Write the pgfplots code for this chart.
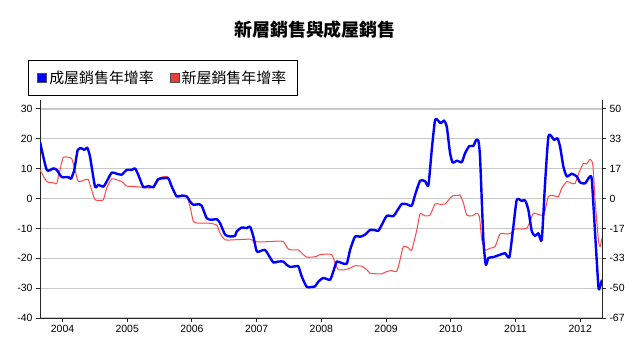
\documentclass[border=0pt]{standalone}
\usepackage{pgfplots}
\pgfplotsset{compat=1.18}
\usepackage{fontspec}
\setmainfont{Liberation Sans}
\newfontfamily\cjk{Noto Sans CJK TC}
\definecolor{bl}{RGB}{0,0,255}
\definecolor{rd}{RGB}{255,70,70}
\definecolor{gr}{RGB}{200,200,200}

\pgfplotstableread{
x y
2003.652 19
2003.756 9.6
2003.858 10.1
2003.910 9.6
2003.988 7.2
2004.090 7.2
2004.131 6.6
2004.182 9.6
2004.235 16.3
2004.297 16.8
2004.337 16.3
2004.383 17
2004.425 14
2004.502 4
2004.553 4.6
2004.631 4
2004.683 5.7
2004.760 8.7
2004.838 8.3
2004.915 8.0
2004.992 9.6
2005.070 9.6
2005.121 10.1
2005.172 7.9
2005.249 3.8
2005.326 4.2
2005.403 3.8
2005.481 6.5
2005.558 6.8
2005.635 6.8
2005.688 4
2005.765 0.7
2005.842 1.0
2005.920 0.7
2005.971 -1
2006.022 -2.1
2006.099 -1.9
2006.151 -2.4
2006.229 -6.6
2006.306 -7.1
2006.383 -6.9
2006.434 -8.2
2006.512 -12.1
2006.589 -12.7
2006.666 -12.5
2006.692 -11
2006.770 -9.7
2006.847 -9.9
2006.898 -9.4
2006.949 -12.7
2007.002 -17.7
2007.079 -17.4
2007.130 -17.2
2007.181 -18.8
2007.258 -21.4
2007.335 -21.1
2007.413 -21.1
2007.465 -22.2
2007.516 -22.9
2007.594 -22.7
2007.645 -22.7
2007.697 -26.1
2007.774 -29.6
2007.852 -29.6
2007.903 -29.4
2007.954 -27.8
2008.031 -26.6
2008.134 -27.2
2008.185 -24.4
2008.238 -21.1
2008.315 -21.6
2008.393 -21.8
2008.444 -17.2
2008.521 -12.7
2008.598 -12.8
2008.675 -12.1
2008.753 -10.5
2008.830 -10.6
2008.881 -10.8
2008.934 -8.8
2009.011 -5.8
2009.113 -5.9
2009.165 -4.3
2009.243 -1.8
2009.320 -1.9
2009.397 -2.4
2009.448 1.2
2009.526 6.0
2009.603 5.8
2009.654 4.4
2009.706 16.3
2009.757 26.3
2009.808 26
2009.845 25.2
2009.896 26.1
2009.938 24.1
2009.989 15.2
2010.031 12
2010.093 12.7
2010.170 12.2
2010.221 15.2
2010.287 17.6
2010.349 17.6
2010.391 19.6
2010.427 19.3
2010.453 13.5
2010.504 -13.8
2010.541 -22.2
2010.581 -19.9
2010.659 -19.6
2010.762 -18.8
2010.839 -18.3
2010.906 -19.6
2010.967 -9.4
2011.020 -0.4
2011.097 -0.8
2011.148 -0.6
2011.199 -3.8
2011.252 -11
2011.303 -12.5
2011.354 -11.6
2011.406 -13.8
2011.457 5.1
2011.508 20.7
2011.561 20.7
2011.597 19.6
2011.648 20.2
2011.689 17.4
2011.740 10.7
2011.793 7.4
2011.870 8.3
2011.947 7.4
2011.998 5.4
2012.076 5.1
2012.142 7.2
2012.179 6.4
2012.230 -11.6
2012.281 -29.4
2012.300 -30
2012.337 -27.2
}\existing

\pgfplotstableread{
x y
2003.652 16.0
2003.756 9.5
2003.858 8.8
2003.910 8.3
2003.961 16.0
2004.012 23.0
2004.090 23.0
2004.142 22.3
2004.193 16.0
2004.244 9.5
2004.348 10.5
2004.399 10.5
2004.451 4.8
2004.502 -0.7
2004.580 -1.0
2004.631 -0.7
2004.683 5.8
2004.760 11.0
2004.838 10.5
2004.915 9.5
2004.992 7.0
2005.121 6.7
2005.224 6.3
2005.352 5.8
2005.403 6.7
2005.456 10.5
2005.533 12.0
2005.635 12.0
2005.688 6.7
2005.765 1.2
2005.842 1.7
2005.920 1.2
2005.971 -4.5
2006.022 -12.8
2006.099 -13.7
2006.253 -13.7
2006.383 -14.8
2006.434 -19.3
2006.512 -23.0
2006.666 -23.0
2006.898 -22.7
2006.975 -24.0
2007.053 -24.2
2007.207 -24.0
2007.362 -23.7
2007.413 -24.0
2007.490 -28.2
2007.567 -28.7
2007.645 -28.7
2007.722 -31.3
2007.774 -32.7
2007.852 -32.7
2007.929 -32.2
2007.980 -31.3
2008.083 -31.0
2008.161 -31.3
2008.212 -36.0
2008.263 -39.7
2008.366 -39.7
2008.444 -38.8
2008.521 -37.5
2008.624 -37.8
2008.702 -39.7
2008.753 -41.7
2008.856 -42.0
2008.934 -42.0
2009.011 -40.7
2009.088 -40.2
2009.165 -40.7
2009.216 -34.2
2009.267 -26.8
2009.345 -27.5
2009.397 -28.7
2009.475 -17.5
2009.526 -8.5
2009.603 -9.7
2009.680 -9.2
2009.757 -3.0
2009.835 -3.2
2009.912 -3.0
2009.989 0.2
2010.040 1.7
2010.117 1.7
2010.144 2.0
2010.195 -2.5
2010.247 -9.2
2010.325 -9.7
2010.402 -8.2
2010.442 -10.0
2010.479 -23.0
2010.530 -28.7
2010.607 -27.7
2010.685 -26.8
2010.762 -19.7
2010.866 -19.8
2010.927 -19.3
2010.994 -17.0
2011.097 -17.0
2011.175 -16.5
2011.226 -12.8
2011.277 -8.2
2011.380 -9.2
2011.442 -8.7
2011.508 1.2
2011.586 1.7
2011.663 1.0
2011.715 5.8
2011.793 9.5
2011.870 8.5
2011.921 8.5
2011.988 15.0
2012.050 19.7
2012.102 19.3
2012.153 22.0
2012.195 18.8
2012.230 -0.7
2012.281 -23.0
2012.307 -26.8
2012.337 -22.0
}\newhomes

\begin{document}
\begin{tikzpicture}
\path[use as bounding box] (-40bp,-33bp) rectangle (600bp,318bp);
\node[font=\cjk\bfseries\fontsize{18}{20}\selectfont] at (275bp,288bp) {新層銷售與成屋銷售};
\begin{axis}[
  at={(0,0)}, anchor=south west,
  scale only axis, width=562bp, height=218bp,
  xmin=2003.652, xmax=2012.337,
  ymin=-40, ymax=33,
  axis x line*=bottom, axis y line*=left,
  axis line style={-, line width=1bp, black!85},
  xtick={2004,2005,...,2012},
  ytick={-40,-30,...,30},
  ymajorgrids, grid style={gr, line width=1.2bp},
  tick align=outside,
  major tick length=4bp,
  tick style={black!85, line width=1bp},
  x tick label style={/pgf/number format/1000 sep={}},
  tick label style={font=\fontsize{10.5}{12}\selectfont},
  /pgf/number format/assume math mode=true,
  clip=true,
  legend style={at={(-0.0214,1.183)}, anchor=north west, draw=black, line width=1bp,
    font=\cjk\fontsize{15}{17}\selectfont, inner xsep=9bp, inner ysep=8.5bp,
    /tikz/every even column/.append style={column sep=14bp}},
  legend columns=2,
]
\addplot[rd, line width=1bp, smooth, tension=0.35, line join=round, y filter/.expression={y*0.6}, forget plot] table[x=x,y=y] {\newhomes};
\addplot[bl, line width=2.4bp, smooth, tension=0.35, line join=round, forget plot] table[x=x,y=y] {\existing};
\addlegendimage{legend image code/.code={\draw[fill=bl, draw=black!70, line width=0.8bp] (0bp,-4.5bp) rectangle (9bp,4.5bp);}}
\addlegendentry{成屋銷售年增率}
\addlegendimage{legend image code/.code={\draw[fill=rd!90!black, draw=black!70, line width=0.8bp] (0bp,-4.5bp) rectangle (9bp,4.5bp);}}
\addlegendentry{新屋銷售年增率}
\end{axis}
\begin{axis}[
  at={(0,0)}, anchor=south west,
  scale only axis, width=562bp, height=218bp,
  xmin=2003.652, xmax=2012.337,
  ymin=-66.667, ymax=55,
  axis x line=none, axis y line*=right,
  axis line style={-, line width=1bp, black!85},
  ytick={-66.667,-50,-33.333,-16.667,0,16.667,33.333,50},
  yticklabels={-67,-50,-33,-17,0,17,33,50},
  tick align=outside,
  major tick length=4bp,
  tick style={black!85, line width=1bp},
  tick label style={font=\fontsize{10.5}{12}\selectfont},
  /pgf/number format/assume math mode=true,
]
\addplot[draw=none] coordinates {(2005,0)};
\end{axis}
\end{tikzpicture}
\end{document}
